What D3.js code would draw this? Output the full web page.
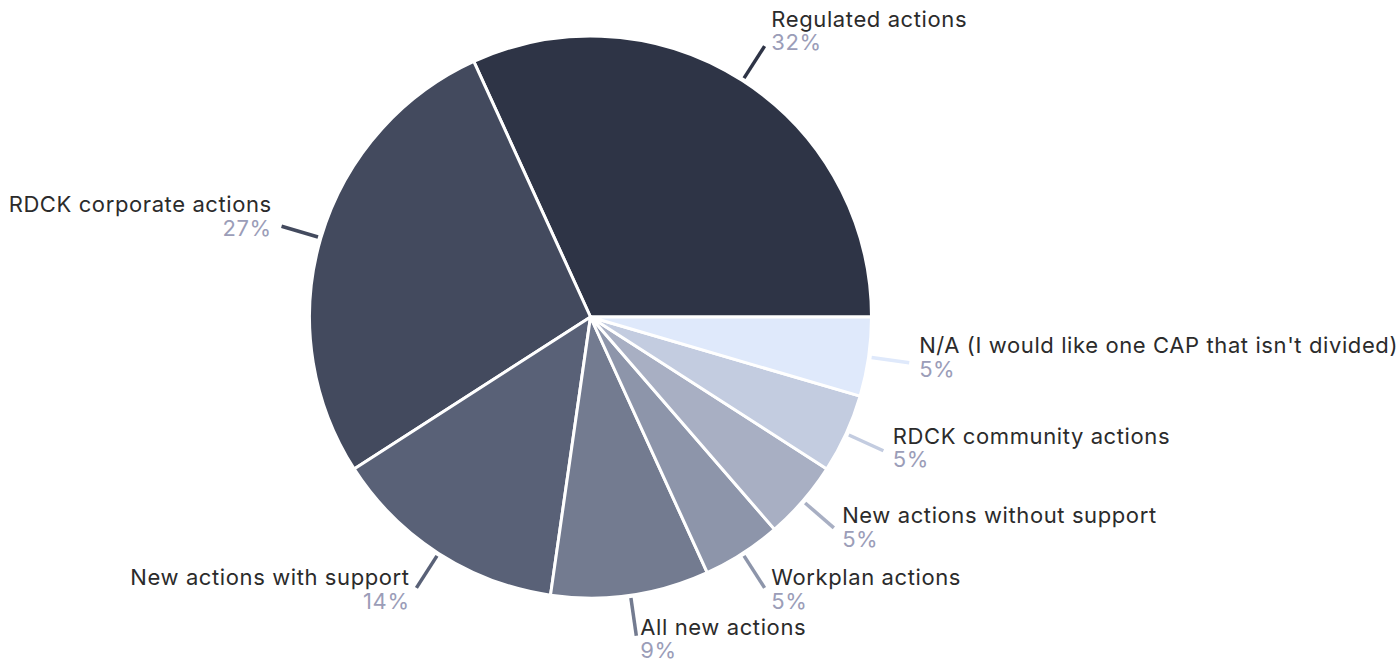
<!DOCTYPE html>
<html>
<head>
<meta charset="utf-8">
<script src="https://cdn.jsdelivr.net/npm/d3@7"></script>
<style>
  html, body { margin: 0; padding: 0; background: #ffffff; }
  svg { display: block; }
  .title { font-family: Inter, "Open Sans", sans-serif; font-size: 22px; letter-spacing: 0.6px; fill: #2b2b2b; }
  .pct { font-family: Inter, "Open Sans", sans-serif; font-size: 22px; letter-spacing: 0.6px; fill: #9b9db8; }
</style>
</head>
<body>
<svg id="chart" width="1400" height="663"></svg>
<script>
// Responses: which way the plan should be divided
const categories = [
  "Regulated actions",
  "RDCK corporate actions",
  "New actions with support",
  "All new actions",
  "Workplan actions",
  "New actions without support",
  "RDCK community actions",
  "N/A (I would like one CAP that isn't divided)"
];
const counts = [7, 6, 3, 2, 1, 1, 1, 1];
const colors = ["#2e3446", "#434a5e", "#596177", "#737b90", "#8d95aa", "#a8afc3", "#c3cce0", "#dfe9fb"];

const width = 1400, height = 663;
const cx = 590.5, cy = 317, radius = 281;
const lineStart = radius + 3, lineEnd = radius + 41;

const total = d3.sum(counts);
const data = categories.map((name, i) => ({ name, value: counts[i], color: colors[i] }));

// Slices run counter-clockwise from 3 o'clock
const pie = d3.pie()
  .value(d => d.value)
  .sort(null)
  .startAngle(Math.PI / 2)
  .endAngle(Math.PI / 2 - 2 * Math.PI);

const arc = d3.arc().innerRadius(0).outerRadius(radius);

const svg = d3.select("#chart");
const g = svg.append("g").attr("transform", `translate(${cx},${cy})`);

const arcs = pie(data);

g.selectAll("path.slice")
  .data(arcs)
  .join("path")
  .attr("class", "slice")
  .attr("d", arc)
  .attr("fill", d => d.data.color)
  .attr("stroke", "#ffffff")
  .attr("stroke-width", 3)
  .attr("stroke-linejoin", "round");

// angle measured counter-clockwise from the positive x axis
function theta(d) {
  const mid = (d.startAngle + d.endAngle) / 2; // d3 convention: clockwise from 12 o'clock
  return Math.PI / 2 - mid;
}

const fmt = v => Math.round(v / total * 100) + "%";

const labels = g.selectAll("g.label")
  .data(arcs)
  .join("g")
  .attr("class", "label");

labels.append("line")
  .attr("x1", d => Math.cos(theta(d)) * lineStart)
  .attr("y1", d => -Math.sin(theta(d)) * lineStart)
  .attr("x2", d => Math.cos(theta(d)) * lineEnd)
  .attr("y2", d => -Math.sin(theta(d)) * lineEnd)
  .attr("stroke", d => d.data.color)
  .attr("stroke-width", 3.5);

function textPos(d) {
  const t = theta(d);
  const c = Math.cos(t), s = Math.sin(t);
  const ex = c * lineEnd, ey = -s * lineEnd;
  const right = c >= 0;
  const gap = 3 + 7 * Math.abs(c);
  const x = right ? ex + gap : ex - gap;
  const titleY = ey - 11 - 10 * s;
  return { x, titleY, pctY: titleY + 23.5, anchor: right ? "start" : "end" };
}

labels.append("text")
  .attr("class", "title")
  .attr("x", d => textPos(d).x)
  .attr("y", d => textPos(d).titleY)
  .attr("text-anchor", d => textPos(d).anchor)
  .text(d => d.data.name);

labels.append("text")
  .attr("class", "pct")
  .attr("x", d => textPos(d).x)
  .attr("y", d => textPos(d).pctY)
  .attr("text-anchor", d => textPos(d).anchor)
  .text(d => fmt(d.data.value));
</script>
</body>
</html>
